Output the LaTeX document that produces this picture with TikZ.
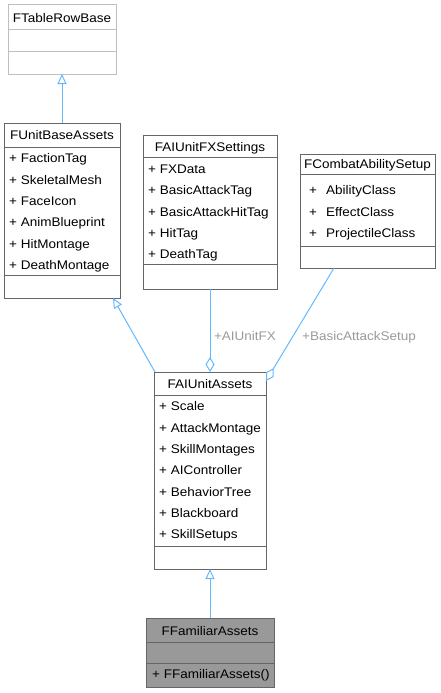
\documentclass[tikz,border=0pt]{standalone}
\usepackage{fontspec}
\setmainfont{Liberation Sans}[FakeStretch=1.08]
\usetikzlibrary{arrows.meta,calc}
\definecolor{edgeblue}{HTML}{63B8FF}
\definecolor{boxgray}{HTML}{666666}
\definecolor{extgray}{HTML}{BFBFBF}
\definecolor{lblgray}{HTML}{9A9A9A}
\definecolor{fillgray}{HTML}{999999}
\begin{document}
\begin{tikzpicture}[x=1pt,y=-1pt,
  box/.style={draw=boxgray, line width=1pt, anchor=north west, inner sep=0pt, outer sep=0pt},
  sepline/.style={draw=boxgray, line width=1pt},
  txt/.style={font=\fontsize{12.5}{14}\selectfont, inner sep=0pt, text height=9pt, text depth=0pt},
  ttl/.style={txt, anchor=center},
  attr/.style={txt, anchor=west},
  inh/.style={draw=edgeblue, line width=1pt, -{Triangle[open, length=10pt, width=9pt]}},
  agg/.style={draw=edgeblue, line width=1pt, {Diamond[open, length=15pt, width=9pt]}-},
  lbl/.style={txt, text=lblgray, anchor=center}]
\useasboundingbox (0,0) rectangle (440,693);

% FTableRowBase
\node[box, draw=extgray, minimum width=108pt, minimum height=69pt] (tr) at (8,5) {};
\draw[draw=extgray, line width=1pt] (8,30) -- (116,30) (8,52) -- (116,52);
\node[ttl] (trt) at (62,18) {FTableRowBase};

% FUnitBaseAssets
\node[box, minimum width=116pt, minimum height=175pt] (ub) at (4,123) {};
\draw[sepline] (4,147) -- (120,147) (4,275) -- (120,275);
\node[ttl] (ubt) at (62,135) {FUnitBaseAssets};
\node[attr] (ub1) at (9,158) {+ FactionTag};
\node[attr] (ub2) at (9,180) {+ SkeletalMesh};
\node[attr] (ub3) at (9,201) {+ FaceIcon};
\node[attr] (ub4) at (9,222) {+ AnimBlueprint};
\node[attr] (ub5) at (9,244) {+ HitMontage};
\node[attr] (ub6) at (9,265) {+ DeathMontage};

% FAIUnitFXSettings
\node[box, minimum width=134pt, minimum height=154pt] (fx) at (143,135) {};
\draw[sepline] (143,157) -- (277,157) (143,264) -- (277,264);
\node[ttl] (fxt) at (210,147) {FAIUnitFXSettings};
\node[attr] (fx1) at (148,169) {+ FXData};
\node[attr] (fx2) at (148,190) {+ BasicAttackTag};
\node[attr] (fx3) at (148,212) {+ BasicAttackHitTag};
\node[attr] (fx4) at (148,233) {+ HitTag};
\node[attr] (fx5) at (148,254) {+ DeathTag};

% FCombatAbilitySetup
\node[box, minimum width=135pt, minimum height=114pt] (ca) at (300,154) {};
\draw[sepline] (300,174) -- (435,174) (300,246) -- (435,246);
\node[ttl] (cat) at (367.5,164) {FCombatAbilitySetup};
\node[attr] (ca1) at (309,190) {+\hspace{9pt}AbilityClass};
\node[attr] (ca2) at (309,212) {+\hspace{9pt}EffectClass};
\node[attr] (ca3) at (309,233) {+\hspace{9pt}ProjectileClass};

% FAIUnitAssets
\node[box, minimum width=112pt, minimum height=197pt] (ai) at (154,372) {};
\draw[sepline] (154,395) -- (266,395) (154,546) -- (266,546);
\node[ttl] (ait) at (210,384) {FAIUnitAssets};
\node[attr] (ai1) at (159,406) {+ Scale};
\node[attr] (ai2) at (159,428) {+ AttackMontage};
\node[attr] (ai3) at (159,449) {+ SkillMontages};
\node[attr] (ai4) at (159,470) {+ AIController};
\node[attr] (ai5) at (159,492) {+ BehaviorTree};
\node[attr] (ai6) at (159,513) {+ Blackboard};
\node[attr] (ai7) at (159,534) {+ SkillSetups};

% FFamiliarAssets
\node[box, fill=fillgray, minimum width=128pt, minimum height=69pt] (fa) at (146,618) {};
\draw[sepline] (146,642) -- (274,642) (146,663) -- (274,663);
\node[ttl] (fat) at (210,631) {FFamiliarAssets};
\node[attr] (fa1) at (152,674) {+ FFamiliarAssets()};

% connectors
\draw[inh] (ub.north) -- (tr.south);
\draw[inh] ([xshift=1pt]ai.north west) -- ([xshift=-7pt]ub.south east);
\draw[agg] (ai.north) -- (fx.south);
\coordinate (caa) at (266,381);
\draw[agg] (caa) -- ([xshift=34pt]ca.south west);
\draw[inh] (fa.north) -- (ai.south);

% labels
\node[lbl] (l1) at (245,336) {+AIUnitFX};
\node[lbl] (l2) at (359,336) {+BasicAttackSetup};
\end{tikzpicture}
\end{document}
